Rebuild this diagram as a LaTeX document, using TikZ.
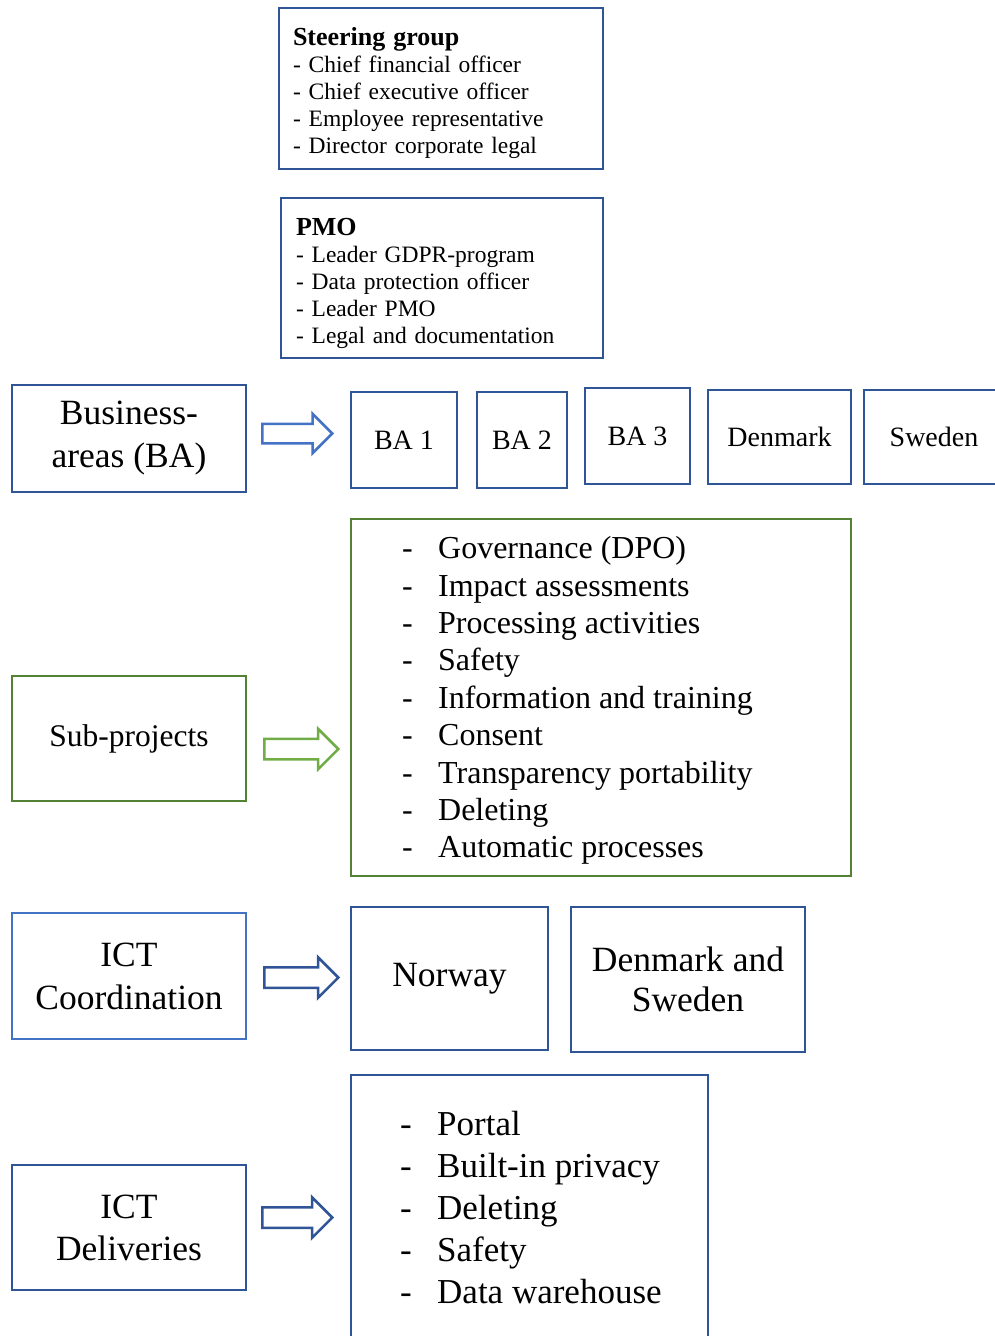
\documentclass[tikz,border=0pt]{standalone}
\usepackage{fontspec}
\setmainfont{Liberation Serif}
\usetikzlibrary{shapes.arrows}
\definecolor{darkblue}{HTML}{2F5597}
\definecolor{lightblue}{HTML}{4472C4}
\definecolor{darkgreen}{HTML}{548235}
\definecolor{lightgreen}{HTML}{70AD47}
\newcommand{\dashitem}[2][36pt]{\makebox[#1][l]{-}#2}
\begin{document}
\begin{tikzpicture}[x=1pt,y=-1pt,
		box/.style={draw=#1,line width=2.5pt,inner sep=0pt,align=center},
		box/.default=darkblue,
		groupbox/.style={box,align=left,inner xsep=14pt,text width=296pt,minimum height=161pt,
			font=\fontsize{23.5}{27}\selectfont},
		blockarrow/.style={single arrow,draw=#1,line width=2.5pt,inner xsep=0pt,inner ysep=8.5pt,
			single arrow head extend=10pt,minimum height=70pt,anchor=west}]
	\useasboundingbox (0,0) rectangle (994,1336);
	% top groups
	\node [groupbox] (steer) at (441,88.5) {\rule{0pt}{28pt}{\bfseries\fontsize{26}{27}\selectfont Steering group}\\
		- Chief financial officer\\
		- Chief executive officer\\
		- Employee representative\\
		- Director corporate legal};
	\node [groupbox,inner xsep=15pt,text width=292pt,minimum height=160pt] (pmo) at (442,278) {\rule{0pt}{28pt}{\bfseries\fontsize{26}{27}\selectfont PMO}\\
		- Leader GDPR-program\\
		- Data protection officer\\
		- Leader PMO\\
		- Legal and documentation};
	% business areas
	\node [box,minimum width=234pt,minimum height=107pt,font=\fontsize{35.5}{43}\selectfont] (areas) at (129,438.5) {Business-\\areas (BA)};
	\node [blockarrow=lightblue] (arrareas) at (261,433.5) {};
	\node [box,minimum width=106pt,minimum height=96pt,font=\fontsize{28}{32}\selectfont] (ba1) at (404,440) {BA 1};
	\node [box,minimum width=90pt,minimum height=96pt,font=\fontsize{28}{32}\selectfont] (ba2) at (522,440) {BA 2};
	\node [box,minimum width=105pt,minimum height=96pt,font=\fontsize{28}{32}\selectfont] (ba3) at (637.5,436) {BA 3};
	\node [box,minimum width=143pt,minimum height=94pt,font=\fontsize{28}{32}\selectfont] (denmark) at (779.5,437) {Denmark};
	\node [box,minimum width=140pt,minimum height=94pt,font=\fontsize{28}{32}\selectfont] (sweden) at (934,437) {Sweden};
	% sub-projects
	\node [box=darkgreen,minimum width=234pt,minimum height=125pt,font=\fontsize{31.5}{37}\selectfont] (subproj) at (129,738.5) {Sub-projects};
	\node [blockarrow=lightgreen,minimum height=74pt,inner ysep=9pt] (arrsub) at (263,749) {};
	\node [box=darkgreen,minimum width=500pt,minimum height=357pt] (sublist) at (601,697.5) {};
	\node [anchor=west,align=left,inner sep=0pt,font=\fontsize{32}{37.4}\selectfont] (subitems) at (402,700.5) {\dashitem{Governance (DPO)}\\
		\dashitem{Impact assessments}\\
		\dashitem{Processing activities}\\
		\dashitem{Safety}\\
		\dashitem{Information and training}\\
		\dashitem{Consent}\\
		\dashitem{Transparency portability}\\
		\dashitem{Deleting}\\
		\dashitem{Automatic processes}};
	% ICT coordination
	\node [box=lightblue,minimum width=234pt,minimum height=126pt,font=\fontsize{35.5}{43}\selectfont] (ictco) at (129,976) {ICT\\Coordination};
	\node [blockarrow=darkblue,minimum height=74pt,inner ysep=9pt] (arrictco) at (263,977.5) {};
	\node [box,minimum width=197pt,minimum height=143pt,font=\fontsize{35.5}{40}\selectfont] (norway) at (449.5,978.5) {Norway};
	\node [box,minimum width=234pt,minimum height=145pt,font=\fontsize{35.5}{40}\selectfont] (dksw) at (688,979.5) {Denmark and\\Sweden};
	% ICT deliveries
	\node [box,minimum width=234pt,minimum height=125pt,font=\fontsize{35.5}{42}\selectfont] (ictdel) at (129,1227.5) {ICT\\Deliveries};
	\node [blockarrow=darkblue,inner ysep=9pt] (arrictdel) at (261,1217.5) {};
	\node [box,minimum width=357pt,minimum height=270pt] (dellist) at (529.5,1210) {};
	\node [anchor=west,align=left,inner sep=0pt,font=\fontsize{35}{42}\selectfont] (delitems) at (400,1208) {\dashitem[37pt]{Portal}\\
		\dashitem[37pt]{Built-in privacy}\\
		\dashitem[37pt]{Deleting}\\
		\dashitem[37pt]{Safety}\\
		\dashitem[37pt]{Data warehouse}};
\end{tikzpicture}
\end{document}
